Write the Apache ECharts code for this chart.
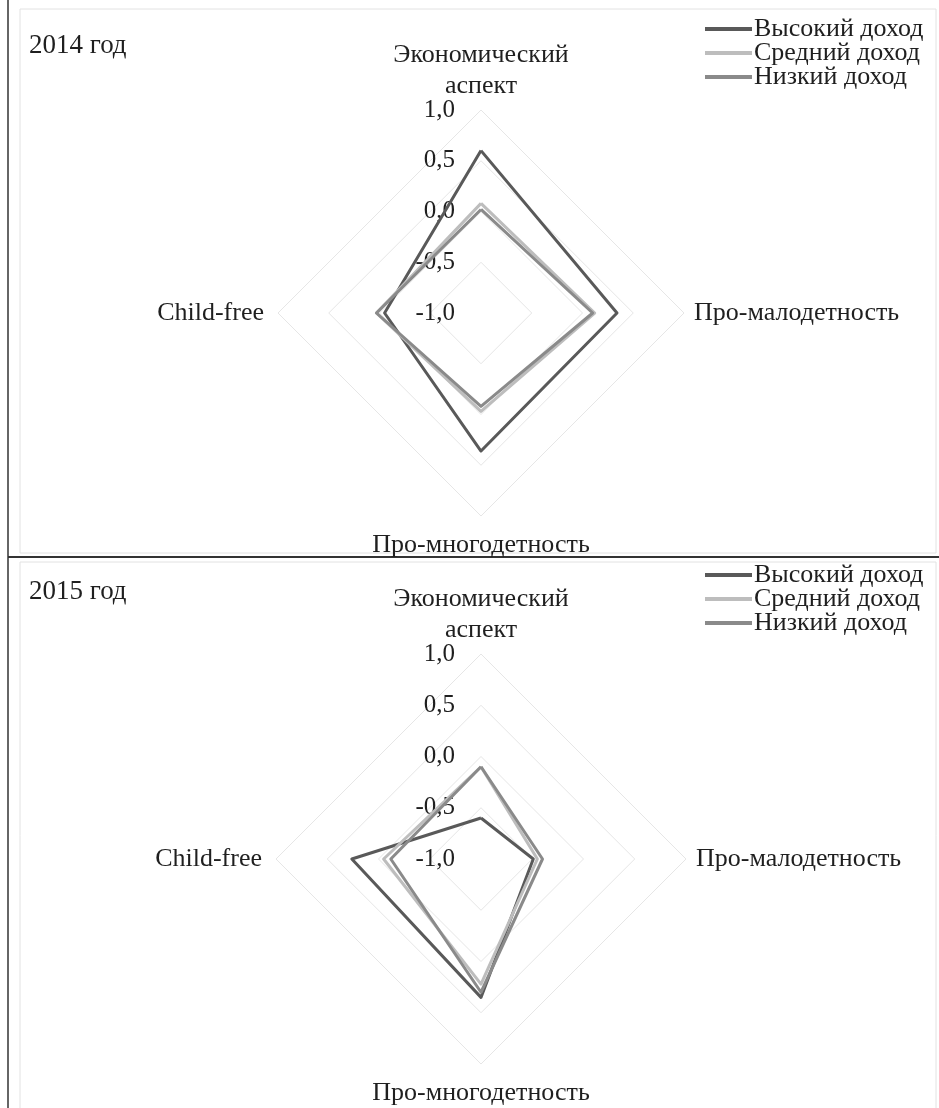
<!DOCTYPE html>
<html>
<head>
<meta charset="utf-8">
<script src="https://cdn.jsdelivr.net/npm/echarts@6/dist/echarts.min.js"></script>
<style>
  html, body { margin: 0; padding: 0; background: #fff; }
  #chart { width: 939px; height: 1108px; }
</style>
</head>
<body>
<div id="chart"></div>
<script>
// axes in counter-clockwise order starting from the top (echarts radar goes CCW)
const categories = ['Экономический\nаспект', 'Child-free', 'Про-многодетность', 'Про-малодетность']
const seriesNames = ['Высокий доход', 'Средний доход', 'Низкий доход']
const years = ['2014 год', '2015 год']
const tickValues = [-1, -0.5, 0, 0.5, 1]

// values per year, same order as categories
const high2014 = [0.6, -0.05, 0.36, 0.34]
const mid2014 = [0.08, 0.03, -0.03, 0.12]
const low2014 = [0.02, 0.03, -0.08, 0.1]

const high2015 = [-0.6, 0.26, 0.35, -0.49]
const mid2015 = [-0.1, -0.05, 0.22, -0.45]
const low2015 = [-0.1, -0.12, 0.3, -0.4]

const colors = ['#595959', '#bdbdbd', '#8a8a8a']
const font = 'Liberation Serif'
const textColor = '#1f1f1f'
// rich-text key per axis name, to tune its distance from the outer ring
const nameKeys = ['t', 'l', 'b', 'r']

const chartDom = document.getElementById('chart')
const myChart = echarts.init(chartDom, null, { renderer: 'canvas' })

const nameStyle = { color: textColor, fontFamily: font, fontSize: 26, lineHeight: 31 }

const makeRadar = (center, radius) => ({
    center: center,
    radius: radius,
    startAngle: 90,
    shape: 'polygon',
    splitNumber: tickValues.length - 1,
    nameGap: 8,
    nameMoveOverlap: false,
    axisName: {
        ...nameStyle,
        formatter: (name) => {
            const k = nameKeys[categories.indexOf(name)]
            return name.split('\n').map(s => `{${k}|${s}}`).join('\n')
        },
        rich: {
            t: { ...nameStyle },
            l: { ...nameStyle, padding: [0, 6, 0, 0] },
            b: { ...nameStyle, padding: [12, 0, 0, 0] },
            r: { ...nameStyle, padding: [0, 0, 0, 2] },
        },
    },
    indicator: categories.map((name, i) => ({
        name: name,
        min: tickValues[0],
        max: tickValues[tickValues.length - 1],
        nameMoveOverlap: false,
        axisLabel: { show: i === 0 },
    })),
    axisLine: { show: false },
    axisTick: { show: false },
    splitArea: { show: false },
    splitLine: {
        lineStyle: { color: '#e6e6e6', width: 1 },
    },
    axisLabel: {
        color: textColor,
        fontFamily: font,
        fontSize: 25,
        margin: 26,
        formatter: (v) => v.toFixed(1).replace('.', ','),
    },
})

const makeLegend = (top) => ({
    orient: 'vertical',
    left: 700,
    top: top,
    icon: 'rect',
    itemWidth: 47,
    itemHeight: 4,
    itemGap: -2,
    data: seriesNames,
    textStyle: {
        color: textColor,
        fontFamily: font,
        fontSize: 26,
        lineHeight: 23,
        padding: [0, 0, 0, -3],
    },
})

const yearData = [[high2014, mid2014, low2014], [high2015, mid2015, low2015]]

const series = yearData.map((rows, r) => ({
    type: 'radar',
    radarIndex: r,
    symbol: 'none',
    data: rows.map((vals, i) => ({
        name: seriesNames[i],
        value: vals,
        lineStyle: { color: colors[i], width: 3 },
        itemStyle: { color: colors[i] },
    })),
}))

const option = {
    backgroundColor: '#fff',
    animation: false,
    color: colors,
    title: years.map((t, i) => ({
        text: t,
        left: 29,
        top: 32 + i * 546,
        padding: 0,
        textStyle: {
            color: textColor,
            fontFamily: font,
            fontSize: 27,
            fontWeight: 'normal',
        },
    })),
    legend: [makeLegend(11), makeLegend(557)],
    radar: [makeRadar([481, 313], 203), makeRadar([481, 859], 205)],
    graphic: [
        // light chart-area frames
        { type: 'rect', shape: { x: 20, y: 9, width: 916, height: 544 }, style: { fill: 'none', stroke: '#e2e2e2', lineWidth: 1 }, silent: true },
        { type: 'rect', shape: { x: 20, y: 562, width: 916, height: 560 }, style: { fill: 'none', stroke: '#e2e2e2', lineWidth: 1 }, silent: true },
        // dark separators
        { type: 'line', shape: { x1: 8, y1: 0, x2: 8, y2: 1108 }, style: { stroke: '#333', lineWidth: 1.5 }, silent: true },
        { type: 'line', shape: { x1: 8, y1: 557, x2: 939, y2: 557 }, style: { stroke: '#333', lineWidth: 2 }, silent: true },
    ],
    series: series,
}
option && myChart.setOption(option)
</script>
</body>
</html>
